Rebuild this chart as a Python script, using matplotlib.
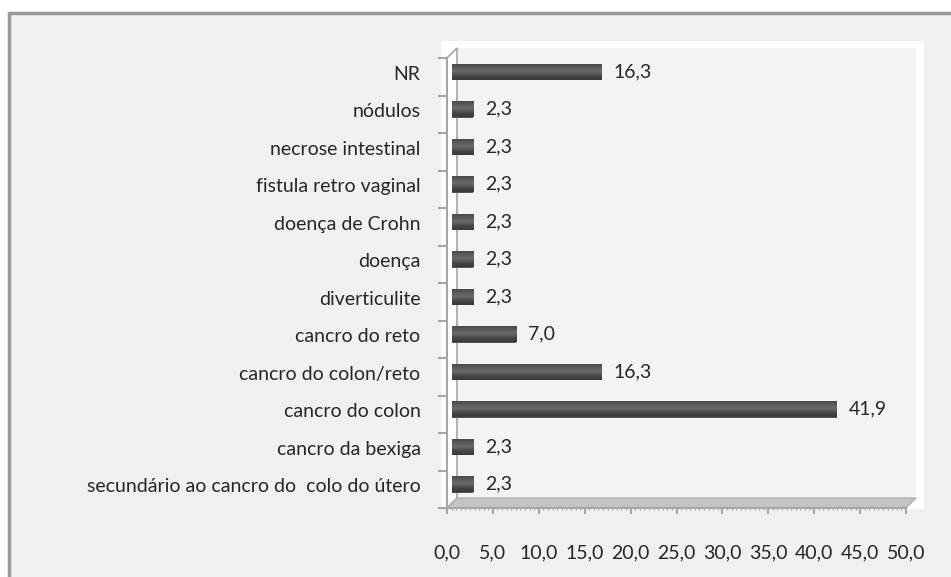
import matplotlib
matplotlib.use("Agg")
import matplotlib.pyplot as plt
import matplotlib.transforms as mtransforms
from matplotlib.patches import Rectangle, Polygon
from matplotlib.colors import LinearSegmentedColormap
import numpy as np

# dados (percentagens)
categorias = ["secundário ao cancro do  colo do útero", "cancro da bexiga", "cancro do colon",
              "cancro do colon/reto", "cancro do reto", "diverticulite", "doença",
              "doença de Crohn", "fistula retro vaginal", "necrose intestinal",
              "nódulos", "NR"]
valores = [2.3, 2.3, 41.9, 16.3, 7.0, 2.3, 2.3, 2.3, 2.3, 2.3, 2.3, 16.3]
xticks = [0, 5, 10, 15, 20, 25, 30, 35, 40, 45, 50]

plt.rcParams['font.family'] = ['Lato', 'DejaVu Sans']
FS = 14
W, H = 951, 577
fig = plt.figure(figsize=(W / 100, H / 100), dpi=100)
fig.patch.set_facecolor("white")

# fond du graphique + cadre
fig.add_artist(Rectangle((9 / W, -0.1), 1.2, (H - 13) / H + 0.1, transform=fig.transFigure,
                         facecolor="#f0f0f0", edgecolor="#9a9a9a", lw=2.5, zorder=-2))
# zone de tracé blanche
fig.add_artist(Rectangle((441 / W, (H - 509) / H), (924 - 441) / W, (509 - 41) / H,
                         transform=fig.transFigure, facecolor="white", edgecolor="none", zorder=-1))

ax = fig.add_axes([447 / W, (H - 508) / H, (906 - 447) / W, (508 - 58) / H])
ax.set_facecolor("none")
ax.set_xlim(0, 50)
ax.set_ylim(-0.5, len(categorias) - 0.5)

ident = mtransforms.IdentityTransform()


def disp(x, y, dx=0, dy=0):
    px, py = ax.transData.transform((x, y))
    return (px + dx, py + dy)


ytop = len(categorias) - 0.5
# paroi du fond
ax.add_artist(Polygon([disp(0, -0.5, 10, 10), disp(50, -0.5, 10, 10),
                       disp(50, ytop, 10, 10), disp(0, ytop, 10, 10)],
                      transform=ident, facecolor="#f3f3f3", edgecolor="none", zorder=0, clip_on=False))
# paroi latérale
ax.add_artist(Polygon([disp(0, -0.5), disp(0, ytop), disp(0, ytop, 10, 10), disp(0, -0.5, 10, 10)],
                      transform=ident, facecolor="white", edgecolor="#a6a6a6", lw=1.2, zorder=0.2,
                      clip_on=False))
# plancher
ax.add_artist(Polygon([disp(0, -0.5), disp(50, -0.5), disp(50, -0.5, 10, 10), disp(0, -0.5, 10, 10)],
                      transform=ident, facecolor="#c4c4c4", edgecolor="#b0b0b0", lw=1, zorder=0.3,
                      clip_on=False))

# barres décalées (effet 3D)
off = mtransforms.ScaledTranslation(5 / 100, 5 / 100, fig.dpi_scale_trans)
bar_tr = ax.transData + off
cmap = LinearSegmentedColormap.from_list("cyl", ["#383838", "#484848", "#6a6a6a", "#5a5a5a", "#454545"])
grad = np.linspace(0, 1, 64).reshape(-1, 1)
h = 0.44
ypos = np.arange(len(categorias))
bars = ax.barh(ypos, valores, height=h, color="#555555", transform=bar_tr, zorder=2, clip_on=False)
for b, v, y in zip(bars, valores, ypos):
    im = ax.imshow(grad, extent=[0, v, y - h / 2, y + h / 2], origin="lower", aspect="auto",
                   cmap=cmap, transform=bar_tr, zorder=3, interpolation="bilinear")
    im.set_clip_path(b)
    ax.text(v, y, "{:.1f}".format(v).replace(".", ","),
            transform=bar_tr + mtransforms.ScaledTranslation(12 / 100, 0, fig.dpi_scale_trans),
            va="center", ha="left", fontsize=FS, color="#262626", zorder=4)
ax.set_xlim(0, 50)
ax.set_ylim(-0.5, len(categorias) - 0.5)

# axes
for s in ["top", "right"]:
    ax.spines[s].set_visible(False)
for s in ["left", "bottom"]:
    ax.spines[s].set_color("#a6a6a6")
    ax.spines[s].set_linewidth(1.5)
    ax.spines[s].set_zorder(1)

ax.set_xticks(xticks)
ax.set_xticklabels(["{:.1f}".format(t).replace(".", ",") for t in xticks])
ax.set_xticks(np.arange(0, 50.01, 0.5), minor=True)
ax.set_yticks(ypos)
ax.set_yticklabels(categorias)
ax.set_yticks(np.arange(-0.5, len(categorias), 1.0), minor=True)
ax.tick_params(axis="y", which="major", length=0, pad=19, labelsize=FS, labelcolor="#262626")
ax.tick_params(axis="y", which="minor", length=6.5, width=1.5, color="#a6a6a6")
ax.tick_params(axis="x", which="major", length=4.3, width=1.5, color="#a6a6a6", pad=22,
               labelsize=FS, labelcolor="#262626")
ax.tick_params(axis="x", which="minor", length=1.5, width=0.8, color="#a6a6a6")

# étiquettes alignées sur les barres (décalage 3D)
lab_off = mtransforms.ScaledTranslation(0, 4 / 100, fig.dpi_scale_trans)
for lab in ax.get_yticklabels():
    lab.set_transform(lab.get_transform() + lab_off)

fig.savefig("out.png", dpi=100)
